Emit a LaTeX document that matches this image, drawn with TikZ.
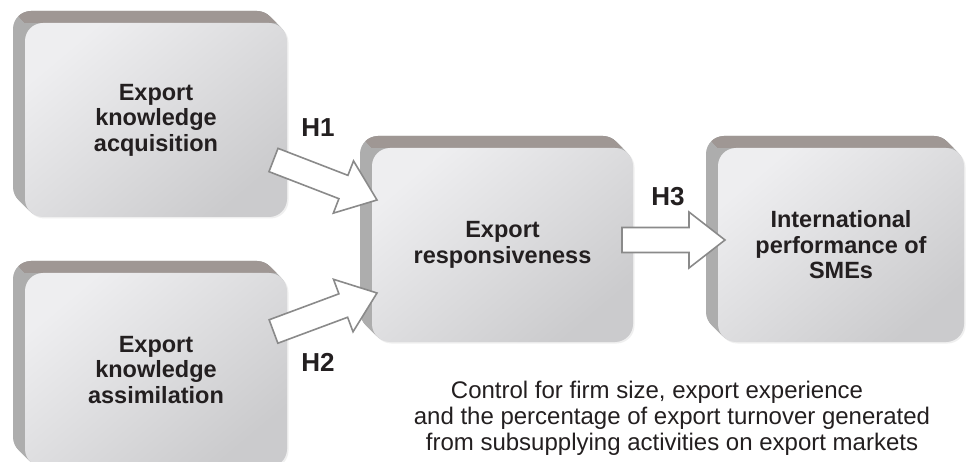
\documentclass[tikz,border=0pt]{standalone}
\usepackage{fontspec}
\setmainfont{Liberation Sans}
\usetikzlibrary{calc,shadows}
\definecolor{sidecol}{HTML}{ADADAD}
\definecolor{topcol}{HTML}{9F9794}
\definecolor{facetop}{HTML}{EEEEF0}
\definecolor{facebot}{HTML}{CBCBCD}
\definecolor{arrowline}{HTML}{8A8A8A}
\definecolor{ink}{HTML}{231F20}
\tikzset{
  slabface/.style={rounded corners=18pt, top color=facetop, bottom color=facebot,
    shading angle=40, align=center, text=ink,
    drop shadow={opacity=0.12, shadow xshift=1.5pt, shadow yshift=-1.5pt},
    font=\fontsize{23.5}{25.5}\selectfont\bfseries, inner sep=0pt},
  barrow/.style={draw=arrowline, fill=white, line width=1.6pt},
  hlabel/.style={font=\fontsize{26}{30}\selectfont\bfseries, text=ink, inner sep=0pt},
  note/.style={font=\fontsize{24}{26}\selectfont, text=ink, align=center, inner sep=0pt},
}
% #1 name, #2 cx, #3 cy, #4 width, #5 height, #6 text
\newcommand\slab[6]{%
  \foreach \i in {12,...,1}{\fill[sidecol, rounded corners=18pt]
    ({#2-#4/2-\i},{#3-#5/2-\i}) rectangle ++(#4,#5);}
  \begin{scope}
    \clip ({#2-#4/2-40},{#3-#5/2-40}) -- ({#2+#4/2+40},{#3-#5/2-40})
      -- ({#2+#4/2+40},{#3-#5/2}) -- ({#2-#4/2},{#3-#5/2}) -- cycle;
    \foreach \i in {12,...,1}{\fill[topcol, rounded corners=18pt]
      ({#2-#4/2-\i},{#3-#5/2-\i}) rectangle ++(#4,#5);}
  \end{scope}
  \node[slabface, minimum width=#4pt, minimum height=#5pt] (#1) at (#2,#3) {#6};
}
% block arrow from #1 (tail) to #2 (tip)
\newcommand\blockarrow[2]{%
  \path ($(#2)!36pt!(#1)$) coordinate (#1-m);
  \draw[barrow] ($(#1)!12.5pt!90:(#2)$) -- ($(#1-m)!12.5pt!90:(#2)$)
    -- ($(#1-m)!28pt!90:(#2)$) -- (#2) -- ($(#1-m)!28pt!-90:(#2)$)
    -- ($(#1-m)!12.5pt!-90:(#2)$) -- ($(#1)!12.5pt!-90:(#2)$) -- cycle;
}
\begin{document}
\begin{tikzpicture}[x=1pt,y=-1pt]
  \useasboundingbox (0,0) rectangle (966,462);
  \clip (0,0) rectangle (966,462);
  \fill[white] (0,0) rectangle (966,462);

  \slab{acq}{156}{120}{262}{194}{Export\\knowledge\\acquisition}
  \slab{ass}{156}{370}{262}{194}{Export\\knowledge\\assimilation}
  \slab{resp}{502.5}{245}{261}{194}{Export\\responsiveness}
  \slab{perf}{841}{245}{246}{194}{International\\performance of\\SMEs}

  \coordinate (t1) at (273.5,160);
  \coordinate (p1) at (377,200);
  \coordinate (t2) at (273.5,331.5);
  \coordinate (p2) at (377,293);
  \coordinate (t3) at (622,240);
  \coordinate (p3) at (725,240);
  \blockarrow{t1}{p1}
  \blockarrow{t2}{p2}
  \blockarrow{t3}{p3}

  \node[hlabel] (h1) at (318,128) {H1};
  \node[hlabel] (h2) at (318,362) {H2};
  \node[hlabel] (h3) at (668,197) {H3};

  \node[note] (ctrl) at (672,418) {Control for firm size, export experience\hspace*{30pt}\\
    and the percentage of export turnover generated\\
    from subsupplying activities on export markets};
\end{tikzpicture}
\end{document}
